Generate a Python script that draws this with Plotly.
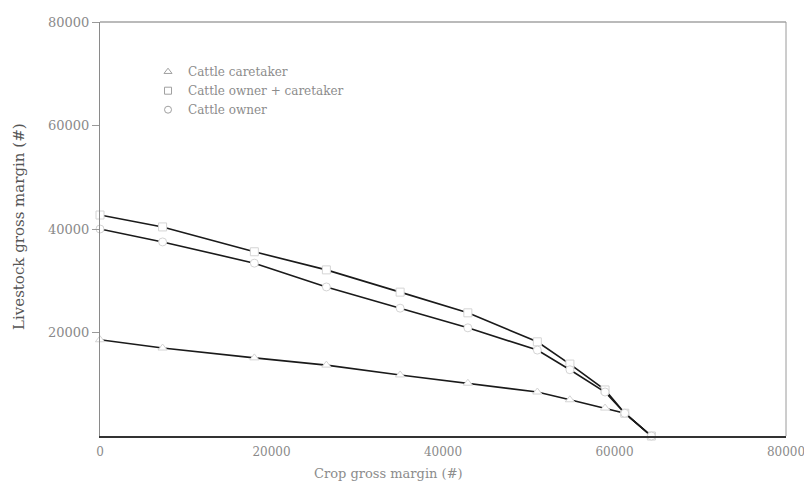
import plotly.graph_objects as go

# Data, gross margins in #
crop_x = [0, 7300, 18000, 26400, 35000, 42900, 51000, 54800, 58900, 61200, 64300]
owner_caretaker = [42700, 40400, 35600, 32100, 27800, 23800, 18200, 13900, 8900, 4400, 0]
owner = [40000, 37500, 33400, 28800, 24700, 20900, 16600, 12800, 8500, 4400, 0]
caretaker = [18600, 17000, 15100, 13700, 11800, 10200, 8500, 7000, 5400, 4400, 0]

series = [
    ("Cattle caretaker", caretaker, "triangle-up-open"),
    ("Cattle owner + caretaker", owner_caretaker, "square-open"),
    ("Cattle owner", owner, "circle-open"),
]

x_ticks = [0, 20000, 40000, 60000, 80000]
y_ticks = [20000, 40000, 60000, 80000]

FONT = "DejaVu Serif, Liberation Serif, serif"

fig = go.Figure()
for name, ys, sym in series:
    fig.add_trace(go.Scatter(
        x=crop_x, y=ys, mode="lines", showlegend=False,
        line=dict(color="#1a1a1a", width=1.6),
    ))
    fig.add_trace(go.Scatter(
        x=crop_x, y=ys, mode="markers", showlegend=False, cliponaxis=False,
        marker=dict(symbol=sym.replace("-open", ""), size=8, color="white",
                    line=dict(color="#d4d4d4", width=1)),
    ))
for name, ys, sym in series:
    fig.add_trace(go.Scatter(
        x=[None], y=[None], mode="markers", name=name,
        marker=dict(symbol=sym, size=7, color="#a0a0a0",
                    line=dict(color="#a0a0a0", width=1)),
    ))

fig.update_layout(
    width=804, height=483,
    margin=dict(l=100, r=18, t=22, b=47),
    paper_bgcolor="white", plot_bgcolor="white",
    font=dict(family=FONT, color="#8a8a8a", size=12),
    legend=dict(x=0.07, y=0.915, xanchor="left", yanchor="top",
                bgcolor="rgba(0,0,0,0)",
                font=dict(size=12, color="#8c8c8c", family=FONT),
                itemwidth=30, tracegroupgap=0),
    xaxis=dict(range=[0, 80000], tickvals=x_ticks,
               ticktext=[str(v) for v in x_ticks], automargin=False,
               ticklabeloverflow="allow",
               showgrid=False, zeroline=False,
               showline=True, linecolor="#333333", linewidth=1.6, mirror=False,
               ticks="", ticklabelstandoff=4,
               tickfont=dict(size=12, color="#8a8a8a")),
    yaxis=dict(range=[0, 80000], tickvals=y_ticks,
               ticktext=[str(v) for v in y_ticks], automargin=False,
               ticklabeloverflow="allow",
               showgrid=False, zeroline=False,
               showline=True, linecolor="#8a8a8a", linewidth=1.2, mirror=False,
               ticks="outside", ticklen=7, tickcolor="#9a9a9a",
               tickfont=dict(size=13, color="#8a8a8a")),
    shapes=[
        dict(type="line", xref="paper", yref="paper", x0=0, x1=1, y0=1, y1=1,
             line=dict(color="#777777", width=1.2)),
        dict(type="line", xref="paper", yref="paper", x0=1, x1=1, y0=0, y1=1,
             line=dict(color="#9a9a9a", width=1)),
    ],
    annotations=[
        dict(text="Crop gross margin (#)", xref="paper", yref="paper",
             x=0.42, y=-0.068, xanchor="center", yanchor="top", showarrow=False,
             font=dict(size=13, color="#8c8c8c", family=FONT)),
        dict(text="Livestock gross margin (#)", xref="paper", yref="paper",
             x=-0.118, y=0.505, xanchor="center", yanchor="middle",
             textangle=-90, showarrow=False,
             font=dict(size=15, color="#555555", family=FONT)),
    ],
)

fig.write_html("out.html", config={"displayModeBar": False},
               post_script="document.body.style.margin='0px';document.body.style.overflow='hidden';")
